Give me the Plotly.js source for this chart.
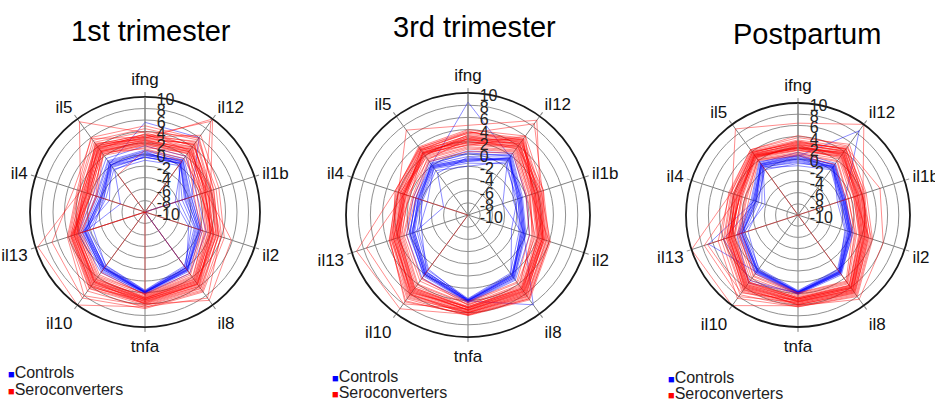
<!DOCTYPE html>
<html>
<head>
<meta charset="utf-8">
<script src="https://cdn.plot.ly/plotly-3.0.1.min.js"></script>
<style>
html,body{margin:0;padding:0;background:#fff;}
#chart{width:935px;height:402px;}
</style>
</head>
<body>
<div id="chart"></div>
<script>
// ---------- DATA ----------
const cytokines = ['ifng','il12','il1b','il2','il8','tnfa','il10','il13','il4','il5'];
const radialTickVals = [-10,-8,-6,-4,-2,0,2,4,6,8,10];
const radialTickText = ['-10','-8','-6','-4','-2','0','2','4','6','8','10'];
const panelTitles = ['1st trimester','3rd trimester','Postpartum'];
const groupNames = ['Controls','Seroconverters'];

// 1st trimester
const trim1Controls = [
  [0.0, 1.0, -2.0, 0.0, 2.5, 4.0, 2.2, 1.2, -1.5, 0.5],
  [-0.5, 0.5, -2.8, -0.6, 2.0, 3.8, 1.8, 0.8, -2.2, -0.2],
  [0.8, 1.5, -1.2, 0.5, 2.8, 4.2, 2.6, 1.8, -1.0, 1.0],
  [-1.0, 0.0, -3.2, -1.0, 1.6, 3.6, 1.5, 0.2, -2.8, -0.8],
  [5.6, 6.0, -1.5, 0.2, 2.4, 4.0, 2.0, 1.0, -1.8, 0.4],
  [0.3, 0.8, -4.5, -2.0, 2.2, 3.9, 2.4, 1.5, -3.5, 0.2],
  [-0.5, 0.5, -2.5, -10, 2.0, 3.9, 2.0, 0.5, -2.0, 0.0],
  [1.5, 2.0, -0.5, 1.2, 3.2, 4.3, 3.0, 2.2, -0.5, 1.5],
  [-0.2, 1.2, -1.8, -0.2, 2.6, 4.0, 2.8, 1.0, -5.5, -1.0],
  [0.5, 0.2, -3.8, -1.5, 1.8, 3.7, 1.6, -0.5, -2.5, 0.6],
  [0.2, 0.8, -2.2, -0.4, 2.3, 3.9, 2.1, 0.9, -1.8, 0.2],
  [-0.4, 0.4, -2.6, -0.8, 2.1, 3.8, 1.9, 0.6, -2.4, -0.4],
  [0.6, 1.2, -1.6, 0.2, 2.6, 4.1, 2.4, 1.4, -1.2, 0.8],
  [-0.1, 0.6, -2.4, -0.2, 2.4, 4.0, 2.2, 1.1, -2.0, 0.1]
];
const trim1Seroconverters = [
  [2.5, 3.5, 1.0, 2.0, 5.0, 5.0, 5.0, 2.5, 0.5, 3.5],
  [3.5, 5.0, 2.0, 3.0, 6.0, 5.8, 6.0, 3.2, 1.5, 4.5],
  [1.5, 2.0, 0.0, 1.0, 4.0, 4.5, 4.0, 2.0, -0.5, 2.5],
  [4.0, 6.0, 2.5, 3.5, 6.5, 6.2, 6.5, 3.8, 2.0, 5.0],
  [2.0, 3.0, -0.5, 0.5, 3.5, 4.3, 3.5, 1.5, -1.0, 3.0],
  [3.0, 4.5, 1.5, 2.5, 5.5, 5.5, 5.5, 3.0, 1.0, 4.0],
  [1.0, 1.5, 0.5, 1.5, 4.5, 4.8, 4.5, 2.2, 0.0, 2.8],
  [2.8, 10.0, 2.0, 3.2, 5.2, 5.2, 4.8, 2.8, 0.8, 3.8],
  [3.2, 9.5, 1.0, 2.0, 6.0, 5.6, 5.2, 3.0, 1.2, 4.2],
  [2.2, 3.8, 1.2, 5.8, 9.0, 6.0, 5.0, 2.6, 0.2, 3.2],
  [3.8, 4.2, 2.2, 3.8, 8.5, 6.5, 10.0, 9.6, 1.8, 9.4],
  [1.8, 2.5, -1.0, 0.2, 3.2, 4.2, 3.8, 1.8, -1.2, 2.4],
  [4.5, 5.5, 3.0, 4.0, 7.0, 6.6, 7.0, 4.0, 2.2, 5.4],
  [0.8, 1.0, -10, 0.8, 4.2, 4.6, -10, 2.0, -10, -2.0],
  [2.6, 4.8, 0.8, 2.8, 5.8, 5.4, 6.2, 3.5, 0.6, 4.8],
  [3.6, 3.2, 1.8, 1.8, 4.8, 5.0, 4.2, 2.4, 1.4, 3.6],
  [1.2, 2.8, 0.2, 2.4, 5.4, 5.8, 5.8, 3.4, -0.2, 2.2],
  [5.0, 5.8, 2.6, 3.4, 6.8, 6.3, 8.0, 4.2, 2.4, 6.0],
  [2.4, 3.0, 1.4, -10, 3.8, 4.4, 3.0, -10, 0.4, 3.0],
  [3.0, 6.5, 3.5, 4.5, 7.2, 6.8, 8.5, 7.0, 3.0, 5.8],
  [2.2, 3.2, 0.6, 1.6, 4.6, 4.9, 4.6, 2.8, 0.6, 3.4],
  [3.0, 4.0, 1.4, 2.4, 5.4, 5.3, 5.4, 3.0, 1.0, 3.8],
  [1.8, 3.6, 1.0, 2.2, 5.0, 5.1, 5.2, 2.6, 0.4, 3.0],
  [2.8, 4.6, 1.6, 2.6, 5.6, 5.6, 5.8, 3.4, 1.2, 4.4],
  [2.0, 2.6, 0.4, 1.2, 4.4, 4.7, 4.4, 2.2, 0.2, 3.2],
  [3.4, 4.4, 1.8, 3.0, 6.2, 5.9, 6.4, 3.6, 1.6, 4.6],
  [2.6, 3.4, 1.2, 2.0, 5.2, 5.3, 5.0, 2.9, 0.8, 3.6],
  [1.6, 3.0, 0.8, 1.8, 4.8, 5.0, 4.8, 2.4, 0.0, 2.8],
  [3.2, 5.2, 2.2, 3.4, 6.4, 6.0, 6.0, 3.6, 1.6, 4.2],
  [2.4, 4.0, 0.2, 2.6, 5.6, 5.2, 5.6, 3.2, 0.6, 4.0]
];

// 3rd trimester
const trim3Controls = [
  [-1.0, 1.5, -1.2, -0.6, 2.4, 4.0, 1.8, -0.6, -1.5, -0.2],
  [0.0, 2.2, -0.6, 0.0, 3.0, 4.3, 2.4, 0.0, -1.0, 0.5],
  [-2.0, 0.8, -1.8, -1.2, 1.8, 3.7, 1.2, -1.2, -2.2, -1.0],
  [8.5, 1.8, -1.0, -0.4, 8.2, 4.1, 2.0, -0.4, -1.4, 0.2],
  [-0.5, 1.0, -4.0, -0.8, 2.2, 3.9, 1.5, -0.8, -5.8, -1.5],
  [0.5, 2.5, 0.0, 0.6, 3.2, 4.4, 2.8, 0.6, -0.6, 0.8],
  [-1.5, 0.4, -1.5, -2.5, 2.0, 3.8, 1.6, -2.0, -2.0, -0.6],
  [-0.8, 1.2, -0.8, -0.2, 2.8, 4.2, 2.2, 0.2, -1.2, 0.0],
  [-1.2, 1.6, -1.4, -1.0, 2.6, 4.0, 1.0, -1.5, -3.0, -0.4],
  [0.2, 1.9, -2.2, -0.4, 2.3, 4.1, 2.0, -0.2, -1.8, 0.3],
  [-0.8, 1.6, -1.0, -0.4, 2.6, 4.1, 2.0, -0.4, -1.4, 0.0],
  [-1.2, 1.2, -1.4, -0.8, 2.2, 3.9, 1.6, -0.8, -1.8, -0.4],
  [-0.4, 2.0, -0.8, -0.2, 2.8, 4.2, 2.2, 0.0, -1.0, 0.2],
  [-1.0, 1.4, -1.2, -0.6, 2.4, 4.0, 1.8, -0.6, -1.6, -0.2]
];
const trim3Seroconverters = [
  [2.0, 4.0, 1.5, 2.2, 5.0, 5.2, 5.0, 2.0, 0.8, 2.2],
  [3.0, 5.0, 2.2, 3.2, 6.0, 5.8, 6.2, 2.8, 1.6, 3.0],
  [1.0, 3.0, 0.5, 1.2, 4.2, 4.6, 4.0, 1.2, -0.4, 1.4],
  [4.0, 6.0, 3.0, 4.0, 7.0, 6.4, 7.4, 3.5, 2.4, 3.8],
  [0.4, 2.5, 0.0, 0.6, 3.6, 4.2, 3.0, 0.6, -1.0, 0.8],
  [2.5, 4.5, 1.8, 2.8, 5.5, 5.5, 5.6, 2.4, 1.2, 2.6],
  [1.5, 3.5, 1.0, 1.8, 4.8, 5.0, 4.5, 1.6, 0.2, 1.8],
  [4.7, 9.2, 2.4, 3.5, 6.5, 6.0, 6.8, 3.2, 2.0, 7.2],
  [3.4, 8.5, 2.8, 3.8, 6.8, 6.3, 9.0, 9.2, 2.6, 3.4],
  [2.2, 5.4, 1.2, 2.4, 5.2, 5.4, 8.0, 7.5, 1.0, 2.8],
  [1.2, 3.2, 0.8, 1.0, 4.4, 4.8, 2.8, -10, 1.8, 1.6],
  [3.6, 5.6, 2.6, 4.2, 7.2, 6.5, 7.0, 3.6, 2.2, 3.6],
  [0.8, 2.8, 0.2, 1.6, 3.8, 4.4, 3.4, 1.0, -0.6, 1.0],
  [2.8, 4.2, 1.6, 2.6, 5.8, 5.6, 5.2, 2.2, 1.4, 2.4],
  [1.8, 4.8, 2.0, 3.0, 6.2, 6.0, 6.4, 3.0, 0.6, 3.2],
  [3.2, 5.2, 1.4, 2.0, 5.4, 5.2, 4.8, 1.8, 1.0, 2.0],
  [2.4, 3.8, 2.6, 3.6, 6.6, 6.2, 7.6, 3.4, 2.0, 3.4],
  [1.4, 6.0, 1.0, 4.0, 7.0, 6.4, 6.0, 2.6, 0.0, 2.6],
  [3.8, 4.6, 3.0, 2.8, 5.0, 5.0, 5.8, 2.8, 2.6, 3.6],
  [2.6, 3.4, 0.6, 1.4, 4.6, 4.7, 4.2, 1.4, 0.4, 1.2],
  [2.2, 4.2, 1.6, 2.6, 5.4, 5.5, 5.4, 2.2, 1.0, 2.4],
  [2.8, 4.8, 2.0, 3.0, 5.8, 5.7, 5.8, 2.6, 1.4, 2.8],
  [1.6, 3.8, 1.2, 2.0, 5.0, 5.2, 5.0, 1.8, 0.6, 2.0],
  [3.4, 5.4, 2.4, 3.4, 6.4, 6.1, 6.6, 3.0, 1.8, 3.2],
  [2.0, 3.6, 1.4, 2.4, 5.2, 5.3, 5.2, 2.0, 1.2, 2.2],
  [3.0, 4.4, 1.8, 2.8, 6.0, 5.9, 6.0, 2.4, 1.6, 3.0],
  [2.6, 5.0, 2.2, 3.2, 5.6, 5.6, 5.6, 2.8, 1.2, 2.6],
  [1.8, 4.0, 1.0, 2.2, 4.8, 5.1, 4.8, 1.8, 0.8, 2.4],
  [3.6, 5.2, 2.0, 3.0, 6.2, 6.0, 6.2, 3.2, 2.0, 3.2],
  [2.4, 4.4, 1.6, 2.8, 5.6, 5.6, 5.4, 2.2, 1.0, 2.6]
];

// Postpartum
const postControls = [
  [0.0, 0.6, -1.6, -0.4, 2.6, 3.8, 2.4, 0.5, -2.0, 1.0],
  [1.2, 1.4, -1.0, 0.2, 3.2, 4.2, 3.0, 1.2, -1.4, 1.6],
  [-1.2, 0.0, -2.2, -1.0, 2.0, 3.5, 1.8, 0.0, -2.6, 0.4],
  [0.5, 8.6, -1.2, -0.2, 2.8, 3.9, 2.6, 6.8, -1.8, 1.2],
  [-0.6, 0.2, -2.0, -0.6, 2.4, 3.7, 2.2, 0.2, -3.8, 0.6],
  [0.8, 1.0, -1.4, 0.0, 3.0, 4.0, 4.5, 4.0, -2.2, 1.4],
  [-0.2, 0.4, -1.8, -0.8, 2.2, 3.6, 2.0, -0.6, -3.2, 0.8],
  [0.3, 1.2, -1.2, 0.4, 2.9, 4.1, 2.8, 1.0, -1.6, 1.2],
  [-0.8, 0.8, -2.6, -1.2, 2.5, 3.8, 2.3, 0.6, -2.4, 0.0],
  [0.6, 0.5, -1.5, -0.3, 2.7, 3.9, 5.0, 1.5, -1.2, 1.8],
  [0.2, 0.8, -1.4, -0.2, 2.7, 3.9, 2.5, 0.7, -1.8, 1.0],
  [-0.4, 0.4, -1.8, -0.6, 2.4, 3.7, 2.2, 0.3, -2.2, 0.6],
  [0.6, 1.0, -1.2, 0.0, 2.9, 4.0, 2.7, 0.9, -1.6, 1.3],
  [0.0, 0.7, -1.6, -0.4, 2.6, 3.8, 2.4, 0.5, -2.0, 0.9]
];
const postSeroconverters = [
  [2.0, 3.5, 1.0, 2.0, 6.0, 5.0, 5.2, 2.4, 1.0, 3.0],
  [3.0, 4.5, 2.0, 3.0, 7.0, 5.8, 6.5, 3.5, 2.0, 3.8],
  [1.0, 2.0, -0.5, 0.6, 5.0, 4.2, 3.6, 1.0, -0.4, 2.2],
  [3.8, 5.6, 2.8, 4.0, 8.0, 6.4, 7.6, 4.4, 3.0, 4.4],
  [0.6, 1.2, -1.0, 0.2, 4.6, 3.9, 3.0, 0.6, -0.8, 2.0],
  [2.5, 4.0, 1.5, 2.5, 6.5, 5.5, 6.0, 3.0, 1.5, 3.4],
  [1.5, 2.8, 0.5, 1.4, 5.5, 4.6, 4.4, 1.8, 0.4, 2.6],
  [6.4, 10.0, 2.2, 3.2, 7.4, 6.0, 6.8, 3.8, 2.4, 9.0],
  [2.8, 4.8, 5.4, 6.0, 8.6, 6.2, 10.0, 10.0, 2.6, 4.0],
  [1.8, 3.2, 1.2, 2.2, 6.8, 5.6, 8.0, 7.6, 1.2, 3.2],
  [2.2, 3.8, 0.8, 1.8, 6.2, 5.2, 7.2, 7.0, -10, 2.8],
  [3.4, 5.0, 2.4, 3.6, 7.6, 6.2, 7.0, 4.0, 2.6, 4.2],
  [1.2, 2.4, 0.0, 1.0, 5.2, 4.4, 4.0, 1.4, 0.0, 2.4],
  [2.6, 4.2, 1.8, 2.8, 6.6, 5.4, 5.8, 2.8, 1.8, 3.6],
  [1.6, 3.0, 0.6, 3.4, 7.2, 6.0, 6.2, 3.2, 0.8, 3.0],
  [3.2, 4.6, 2.6, 2.4, 6.0, 5.0, 5.4, 2.2, 2.2, 4.0],
  [2.4, 3.4, 1.4, -10, 5.8, 4.8, 4.8, 2.6, 1.4, 3.2],
  [0.8, 1.8, -0.6, 0.8, 4.8, 4.0, 3.4, 1.2, -0.2, 2.2],
  [4.2, 5.2, 2.0, 3.8, 7.8, 6.4, 8.4, 5.0, 2.8, 4.4],
  [2.0, 2.6, 0.4, 1.6, 5.6, 4.8, 5.0, 2.0, 0.6, 2.8],
  [2.2, 3.6, 1.2, 2.2, 6.2, 5.2, 5.6, 2.6, 1.2, 3.2],
  [2.6, 4.2, 1.6, 2.6, 6.6, 5.5, 6.0, 3.0, 1.6, 3.6],
  [1.6, 3.0, 0.8, 1.6, 5.6, 4.8, 4.8, 2.0, 0.6, 2.8],
  [3.0, 4.6, 2.0, 3.0, 7.0, 5.8, 6.6, 3.2, 2.0, 3.8],
  [2.0, 3.4, 1.0, 2.0, 6.0, 5.0, 5.4, 2.4, 1.0, 3.0],
  [2.8, 4.0, 1.8, 2.8, 6.8, 5.6, 6.2, 2.8, 1.8, 3.4],
  [1.8, 3.8, 1.4, 2.4, 6.4, 5.4, 5.8, 3.0, 0.8, 3.2],
  [2.4, 3.2, 0.6, 1.8, 5.8, 5.0, 5.0, 2.2, 1.4, 2.6],
  [3.2, 4.4, 2.2, 3.2, 7.2, 6.0, 6.4, 3.4, 2.2, 3.8],
  [2.0, 3.8, 1.2, 2.6, 6.2, 5.3, 5.6, 2.6, 1.0, 3.4]
];

// ---------- BUILD ----------
const FONT = 'Arial, "Liberation Sans", Helvetica, sans-serif';
const CTRL_COLOR = '#0000ff';
const SERO_COLOR = '#ff0000';

const panels = [
  {sub:'polar',  controls: trim1Controls, sero: trim1Seroconverters},
  {sub:'polar2', controls: trim3Controls, sero: trim3Seroconverters},
  {sub:'polar3', controls: postControls,  sero: postSeroconverters}
];

const traces = [];
function addLines(rows, color, sub, name, op){
  rows.forEach(vals => {
    traces.push({
      type:'scatterpolar',
      subplot: sub,
      mode:'lines',
      r: vals.concat([vals[0]]),
      theta: cytokines.concat([cytokines[0]]),
      line:{color: color, width:1},
      opacity: op,
      name: name,
      showlegend:false,
      hoverinfo:'skip'
    });
  });
}
panels.forEach(p => {
  addLines(p.controls, CTRL_COLOR, p.sub, groupNames[0], 0.45);
  addLines(p.sero, SERO_COLOR, p.sub, groupNames[1], 0.45);
});

function polarCfg(dx, dy){
  return {
    domain:{x:dx, y:dy},
    bgcolor:'#ffffff',
    angularaxis:{
      type:'category',
      categoryarray: cytokines,
      rotation:90,
      direction:'clockwise',
      showline:true,
      linecolor:'#1a1a1a',
      linewidth:1.8,
      showgrid:true,
      gridcolor:'#808080',
      gridwidth:1,
      ticks:'outside',
      ticklen:4,
      tickcolor:'#808080',
      tickwidth:1,
      tickfont:{family:FONT, size:17, color:'#111'}
    },
    radialaxis:{
      range:[-10,10],
      angle:90,
      tickmode:'array',
      tickvals: radialTickVals,
      ticktext: radialTickText,
      showline:true,
      linecolor:'#808080',
      linewidth:1,
      showgrid:true,
      gridcolor:'#909090',
      gridwidth:1,
      ticks:'',
      tickfont:{family:FONT, size:16, color:'#222'}
    }
  };
}

const annotations = [];
const titlePos = [[151/935, 1-31/402],[474/935, 1-27/402],[807/935, 1-34/402]];
panelTitles.forEach((t,i) => {
  annotations.push({
    xref:'paper', yref:'paper', x:titlePos[i][0], y:titlePos[i][1],
    xanchor:'center', yanchor:'middle', showarrow:false,
    text:t, font:{family:FONT, size:29, color:'#000'}
  });
});
const legendPos = [
  [6/935, 1-372/402, 1-389/402],
  [330/935, 1-376/402, 1-392/402],
  [666/935, 1-377/402, 1-393/402]
];
legendPos.forEach(lp => {
  annotations.push({
    xref:'paper', yref:'paper', x:lp[0], y:lp[1], xanchor:'left', yanchor:'middle', showarrow:false,
    text:'<span style="color:'+CTRL_COLOR+';font-size:11px">■</span>'+groupNames[0],
    font:{family:FONT, size:16, color:'#222'}
  });
  annotations.push({
    xref:'paper', yref:'paper', x:lp[0], y:lp[2], xanchor:'left', yanchor:'middle', showarrow:false,
    text:'<span style="color:'+SERO_COLOR+';font-size:11px">■</span>'+groupNames[1],
    font:{family:FONT, size:16, color:'#222'}
  });
});

const layout = {
  width:935, height:402,
  margin:{l:0, r:0, t:0, b:0},
  paper_bgcolor:'#ffffff',
  showlegend:false,
  font:{family:FONT},
  polar:  polarCfg([30/935, 260/935], [1-327/402, 1-97/402]),
  polar2: polarCfg([346/935, 590/935], [1-337/402, 1-93/402]),
  polar3: polarCfg([686/935, 910/935], [1-327/402, 1-103/402]),
  annotations: annotations
};

Plotly.newPlot('chart', traces, layout, {displayModeBar:false, staticPlot:true});
</script>
</body>
</html>
